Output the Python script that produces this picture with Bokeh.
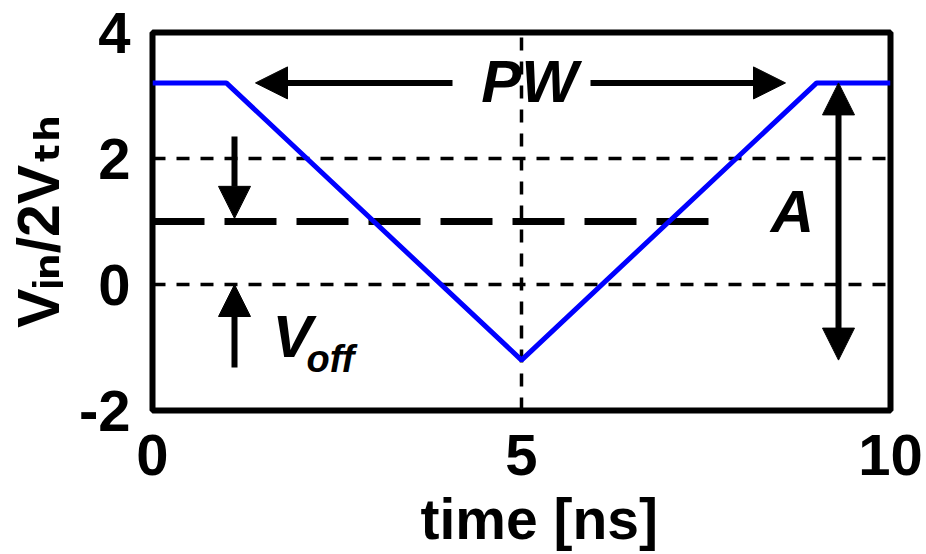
import math

from bokeh.plotting import figure
from bokeh.models import Arrow, NormalHead, Label, FixedTicker, Range1d, Title
from bokeh.embed import file_html
from bokeh.resources import INLINE

# Input waveform: time in ns, input voltage normalised to 2*Vth
time_ns = [0, 1, 5, 9, 10]
vin_norm = [3.2, 3.2, -1.2, 3.2, 3.2]

# Offset level and the extent of its long-dash marker
v_off = 1.0
v_off_marker_x = [0, 7.6]

# Axis ticks and ranges
x_ticks = [0, 5, 10]
y_ticks = [-2, 0, 2, 4]
y_tick_text = {-2: "-2"}
x_lim = (0, 10)
y_lim = (-2, 4)

x_title = "time [ns]"
y_title = "V\u1d62\u2099/2V\u209c\u2095"

# Canvas and frame geometry (pixels)
W, H = 926, 554
LEFT, RIGHT, TOP, BOTTOM = 152, 890, 32, 410

FONT = "Liberation Sans, DejaVu Sans"


def dx(px):
    """Canvas x pixel -> data x."""
    return x_lim[0] + (px - LEFT) * (x_lim[1] - x_lim[0]) / (RIGHT - LEFT)


def dy(py):
    """Canvas y pixel (from top) -> data y."""
    return y_lim[1] - (py - TOP) * (y_lim[1] - y_lim[0]) / (BOTTOM - TOP)


v_top = max(vin_norm)
v_min = min(vin_norm)

p = figure(
    frame_width=RIGHT - LEFT,
    frame_height=BOTTOM - TOP,
    min_border_left=LEFT,
    min_border_right=W - RIGHT,
    min_border_top=TOP,
    min_border_bottom=H - BOTTOM,
    x_range=Range1d(*x_lim),
    y_range=Range1d(*y_lim),
    output_backend="svg",
    toolbar_location=None,
    background_fill_color="white",
    border_fill_color="white",
)

p.outline_line_color = "black"
p.outline_line_width = 6

# axes: labels only, the frame outline acts as the axis box
for ax in (p.xaxis, p.yaxis):
    ax.axis_line_color = None
    ax.major_tick_line_color = None
    ax.minor_tick_line_color = None
    ax.major_tick_in = 0
    ax.major_tick_out = 0
    ax.major_label_text_font = FONT
    ax.major_label_text_font_style = "bold"
    ax.major_label_text_font_size = "58px"
    ax.major_label_text_color = "black"

p.xaxis.ticker = FixedTicker(ticks=x_ticks)
p.yaxis.ticker = FixedTicker(ticks=y_ticks)
p.yaxis.major_label_overrides = y_tick_text
p.xaxis.major_label_standoff = 24
p.yaxis.major_label_standoff = 22

p.yaxis.axis_label = y_title
p.yaxis.axis_label_text_font = FONT
p.yaxis.axis_label_text_font_style = "bold"
p.yaxis.axis_label_text_font_size = "59px"
p.yaxis.axis_label_text_color = "black"
p.yaxis.axis_label_standoff = 4

p.add_layout(Title(text=x_title, align="left", offset=268, standoff=15,
                   text_font=FONT, text_font_style="bold",
                   text_font_size="57px", text_color="black"), "below")

# dashed grid at the inner ticks
for g in (p.xgrid, p.ygrid):
    g.grid_line_color = "black"
    g.grid_line_width = 3.5
    g.grid_line_dash = "13 11"
    g.grid_line_alpha = 1.0
p.xgrid.ticker = FixedTicker(ticks=x_ticks)
p.ygrid.ticker = FixedTicker(ticks=y_ticks)

# offset level (long dashes)
p.line(v_off_marker_x, [v_off, v_off], line_color="black", line_width=7,
       line_dash="52 20")

# the waveform
p.line(time_ns, vin_norm, line_color="#0000FF", line_width=5)


def arrow(x0, y0, x1, y1, both=False):
    head = dict(size=32, fill_color="black", line_color="black", line_width=1)
    p.add_layout(Arrow(
        x_start=x0, y_start=y0, x_end=x1, y_end=y1,
        start=NormalHead(**head) if both else None,
        end=NormalHead(**head),
        line_color="black", line_width=6,
    ))


# pulse width arrows
arrow(dx(452), v_top, dx(255), v_top)
arrow(dx(590), v_top, dx(785), v_top)
# amplitude (double headed)
arrow(dx(838), v_min, dx(838), v_top, both=True)
# offset arrows
arrow(dx(234), dy(136), dx(234), v_off + 0.05)
arrow(dx(234), dy(367), dx(234), 0)


def label(text, px, py, size, style="bold italic", align="left"):
    p.add_layout(Label(
        x=dx(px), y=dy(py), text=text,
        text_font=FONT, text_font_style=style,
        text_font_size=f"{size}px", text_color="black",
        text_align=align, text_baseline="alphabetic",
    ))


label("PW", 529, 81, 60, align="center")
label("A", 792, 211, 60, align="center")
label("V", 272, 336, 60)
label("off", 306, 358, 38)

open("out.html", "w").write(file_html(p, INLINE))
